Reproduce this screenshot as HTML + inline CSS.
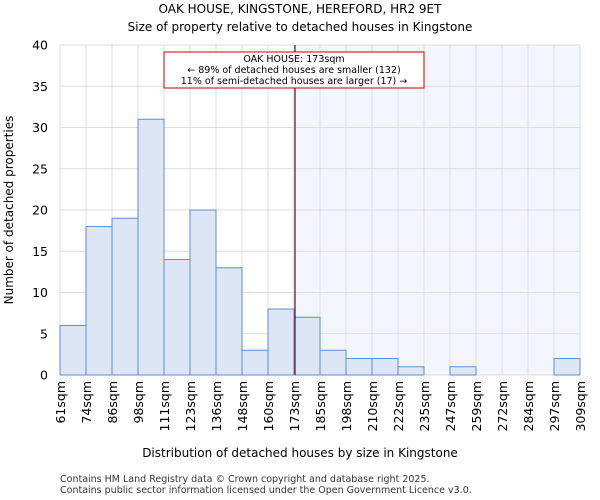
<!DOCTYPE html>
<html><head><meta charset="utf-8"><style>
body{margin:0;background:#fff;}
svg{display:block;font-family:"DejaVu Sans","Liberation Sans",sans-serif;}
</style></head><body>
<svg id="chart" width="600" height="500" viewBox="0 0 600 500">
<text x="300" y="13" text-anchor="middle" font-size="12">OAK HOUSE, KINGSTONE, HEREFORD, HR2 9ET</text>
<text x="300" y="31" text-anchor="middle" font-size="12">Size of property relative to detached houses in Kingstone</text>
<rect x="294" y="45" width="286" height="330" fill="#f3f6fd"/>
<g id="grid"></g>
<g id="bars"></g>
<g id="yticks"></g>
<g id="xticks"></g>
<line x1="295" y1="45" x2="295" y2="375" stroke="#6a0d1a" stroke-width="1.2"/>
<g>
<rect x="164" y="52" width="260" height="36" fill="#fff" stroke="#cc0000" stroke-width="1"/>
<text x="294" y="62" text-anchor="middle" font-size="9.5">OAK HOUSE: 173sqm</text>
<text x="294" y="73" text-anchor="middle" font-size="9.5">← 89% of detached houses are smaller (132)</text>
<text x="294" y="84" text-anchor="middle" font-size="9.5">11% of semi-detached houses are larger (17) →</text>
</g>
<text x="300" y="457" text-anchor="middle" font-size="12">Distribution of detached houses by size in Kingstone</text>
<text transform="translate(13,210) rotate(-90)" text-anchor="middle" font-size="12">Number of detached properties</text>
<text x="60" y="482" font-size="9.5" fill="#333">Contains HM Land Registry data © Crown copyright and database right 2025.</text>
<text x="60" y="493" font-size="9.5" fill="#333">Contains public sector information licensed under the Open Government Licence v3.0.</text>
</svg>
<script>
const categories=["61sqm","74sqm","86sqm","98sqm","111sqm","123sqm","136sqm","148sqm","160sqm","173sqm","185sqm","198sqm","210sqm","222sqm","235sqm","247sqm","259sqm","272sqm","284sqm","297sqm","309sqm"];
const counts=[6,18,19,31,14,20,13,3,8,7,3,2,2,1,0,1,0,0,0,2];
const yTicks=[0,5,10,15,20,25,30,35,40];
const NS="http://www.w3.org/2000/svg";
const x0=60,x1=580,y0=375,y1=45,yMax=40;
const bw=(x1-x0)/counts.length;
const xs=i=>x0+i*bw;
const ys=v=>y0-(v/yMax)*(y0-y1);
function mk(t,a,p){const e=document.createElementNS(NS,t);for(const k in a)e.setAttribute(k,a[k]);p.appendChild(e);return e;}
const grid=document.getElementById('grid');
for(let i=0;i<categories.length;i++){
const l=mk('line',{x1:xs(i),x2:xs(i),y1:y1,y2:y0,stroke:'#dddddd','stroke-width':1},grid);


}
yTicks.forEach(v=>{
const l=mk('line',{x1:x0,x2:x1,y1:ys(v),y2:ys(v),stroke:'#dddddd','stroke-width':1},grid);


});
const bars=document.getElementById('bars');
counts.forEach((v,i)=>{
if(v<=0)return;
const r=mk('rect',{x:xs(i),y:ys(v),width:bw,height:y0-ys(v),fill:'#dce6f4',stroke:'#5b8fd6','stroke-width':1},bars);


});
const yt=document.getElementById('yticks');
yTicks.forEach(v=>{
const t=mk('text',{x:48,y:ys(v)+4.5,'text-anchor':'end','font-size':12.5},yt);
t.textContent=v;


});
const xt=document.getElementById('xticks');
categories.forEach((c,i)=>{
const t=mk('text',{transform:`translate(${xs(i)+5},381) rotate(-90)`,'text-anchor':'end','font-size':12.5},xt);
t.textContent=c;


});
</script>
</body></html>
